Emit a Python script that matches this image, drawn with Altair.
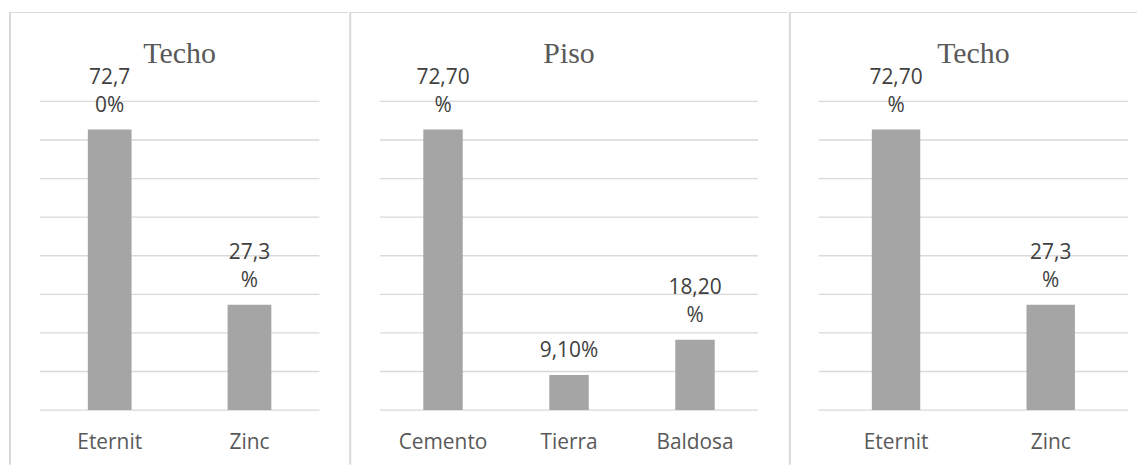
import altair as alt
import pandas as pd

# ---- data ----
techo_cats = ["Eternit", "Zinc"]
techo_vals = [72.7, 27.3]
techo_line1 = ["72,7", "27,3"]
techo_line2 = ["0%", "%"]

piso_cats = ["Cemento", "Tierra", "Baldosa"]
piso_vals = [72.7, 9.1, 18.2]
piso_line1 = ["72,70", "", "18,20"]
piso_line2 = ["%", "9,10%", "%"]

techo2_cats = ["Eternit", "Zinc"]
techo2_vals = [72.7, 27.3]
techo2_line1 = ["72,70", "27,3"]
techo2_line2 = ["%", "%"]

grid_ticks = [0, 10, 20, 30, 40, 50, 60, 70, 80]

BAR = "#a5a5a5"
GRID = "#d9d9d9"
BORDER = "#d9d9d9"
LABEL = "#404040"
AXIS = "#595959"
FONT = "Open Sans"
SERIF = "Liberation Serif"
H = 458


def panel(cats, vals, line1, line2, title, width, x0, x1):
    df = pd.DataFrame({"cat": cats, "val": vals, "l1": line1, "l2": line2})
    xs = alt.Scale(domain=cats, range=[x0, x1], paddingInner=0.687, paddingOuter=0.3435)
    ys = alt.Scale(domain=[0, 80], range=[403, 92.7], nice=False, zero=True)
    x = alt.X("cat:N", scale=xs, axis=None, sort=cats)
    y = alt.Y("val:Q", scale=ys, axis=None)

    grid = alt.Chart(pd.DataFrame({"g": grid_ticks})).mark_rule(
        color=GRID, strokeWidth=1.3
    ).encode(
        x=alt.value(x0), x2=alt.value(x1),
        y=alt.Y("g:Q", scale=ys, axis=None),
    )
    bars = alt.Chart(df).mark_bar(color=BAR).encode(x=x, y=y)
    t2 = alt.Chart(df).mark_text(
        font=FONT, fontSize=21, color=LABEL, baseline="alphabetic", dy=-17.6
    ).encode(x=x, y=y, text="l2:N")
    t1 = alt.Chart(df).mark_text(
        font=FONT, fontSize=21, color=LABEL, baseline="alphabetic", dy=-46.3
    ).encode(x=x, y=y, text="l1:N")
    xlab = alt.Chart(df).mark_text(
        font=FONT, fontSize=21, color=AXIS, baseline="alphabetic"
    ).encode(x=x, y=alt.value(442), text="cat:N")
    tdf = pd.DataFrame({"t": [title]})
    ttl = alt.Chart(tdf).mark_text(
        font=SERIF, fontSize=30, color=AXIS, baseline="alphabetic"
    ).encode(x=alt.value((x0 + x1) / 2), y=alt.value(54), text="t:N")
    top = alt.Chart(tdf).mark_rule(color=BORDER, strokeWidth=1).encode(
        x=alt.value(0), x2=alt.value(width), y=alt.value(3.3)
    )
    left = alt.Chart(tdf).mark_rule(color=BORDER, strokeWidth=2).encode(
        x=alt.value(1), y=alt.value(3.3), y2=alt.value(H)
    )
    return alt.layer(grid, top, left, bars, t1, t2, xlab, ttl).properties(
        width=width, height=H
    )


p1 = panel(techo_cats, techo_vals, techo_line1, techo_line2, "Techo", 340, 31, 312)
p2 = panel(piso_cats, piso_vals, piso_line1, piso_line2, "Piso", 440, 31, 411)
p3 = panel(techo2_cats, techo2_vals, techo2_line1, techo2_line2, "Techo", 350, 30, 341)

chart = alt.hconcat(p1, p2, p3, spacing=0).properties(
    padding=0
).configure_view(stroke=None).configure_concat(spacing=0)

chart.save("out.html", embed_options={"renderer": "svg", "actions": False})
